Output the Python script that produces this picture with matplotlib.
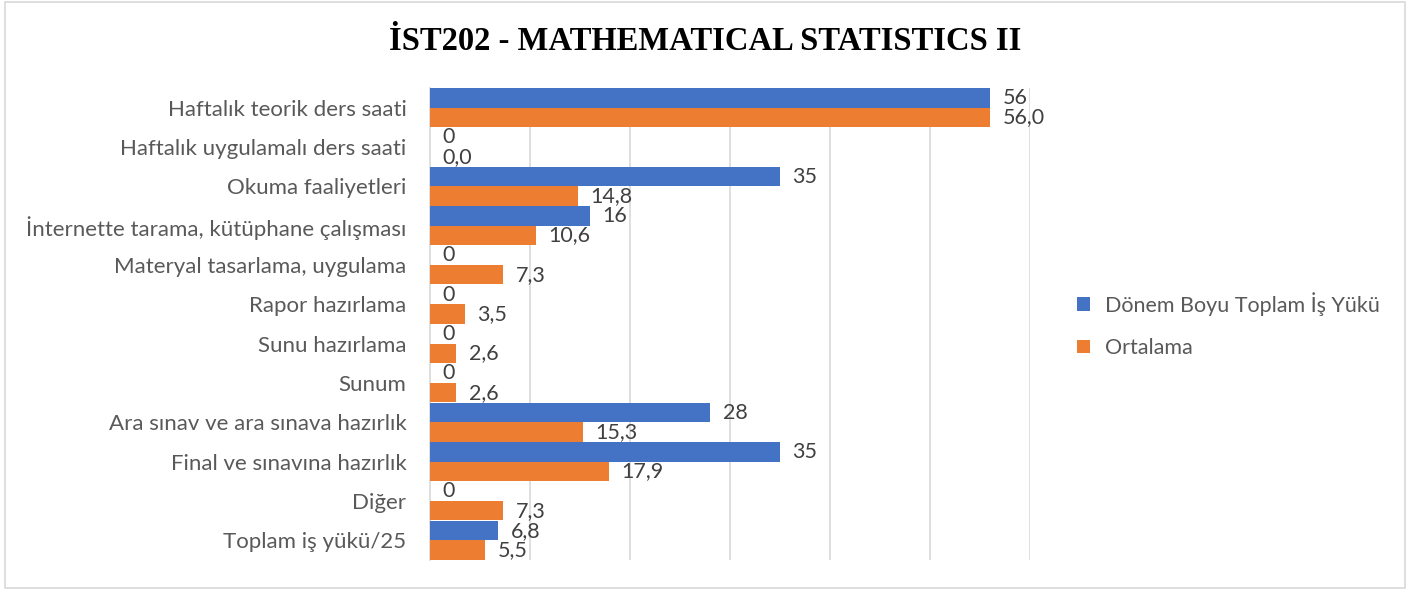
import matplotlib
matplotlib.use("Agg")
import matplotlib.pyplot as plt
from matplotlib.patches import Rectangle
import numpy as np

categories = [
    "Haftalık teorik ders saati",
    "Haftalık uygulamalı ders saati",
    "Okuma faaliyetleri",
    "İnternette tarama, kütüphane çalışması",
    "Materyal tasarlama, uygulama",
    "Rapor hazırlama",
    "Sunu hazırlama",
    "Sunum",
    "Ara sınav ve ara sınava hazırlık",
    "Final ve sınavına hazırlık",
    "Diğer",
    "Toplam iş yükü/25",
]
toplam = [56, 0, 35, 16, 0, 0, 0, 0, 28, 35, 0, 6.8]
ortalama = [56.0, 0.0, 14.8, 10.6, 7.3, 3.5, 2.6, 2.6, 15.3, 17.9, 7.3, 5.5]
series_names = ["Dönem Boyu Toplam İş Yükü", "Ortalama"]

BLUE = "#4472C4"
ORANGE = "#ED7D31"
TEXT = "#595959"
LABEL = "#404040"

plt.rcParams["font.family"] = ["Lato", "DejaVu Sans"]

fig = plt.figure(figsize=(14.1, 5.9), dpi=100)
fig.patches.append(Rectangle((5 / 1410, 2 / 590), 1400 / 1410, 586 / 590,
                             transform=fig.transFigure, fill=False,
                             edgecolor="#d9d9d9", linewidth=1.2))

ax = fig.add_axes([430 / 1410, 30 / 590, 600 / 1410, 472 / 590])
y = np.arange(len(categories))
h = 0.49
b1 = ax.barh(y - 0.245, toplam, height=h, color=BLUE, label=series_names[0], zorder=3)
b2 = ax.barh(y + 0.245, ortalama, height=h, color=ORANGE, label=series_names[1], zorder=3)


def fmt_general(v):
    return (f"{v:g}").replace(".", ",")


ax.bar_label(b1, labels=[fmt_general(v) for v in toplam], padding=9,
             fontsize=15.5, color=LABEL)
ax.bar_label(b2, labels=[f"{v:.1f}".replace(".", ",") for v in ortalama],
             padding=9, fontsize=15.5, color=LABEL)

ax.set_xlim(0, 60)
ax.set_ylim(len(categories) - 0.5, -0.5)
ax.set_xticks(np.arange(10, 61, 10))
ax.set_xticklabels([])
ax.tick_params(axis="x", length=0)
ax.xaxis.grid(True, color="#d9d9d9", linewidth=1.2, zorder=0)
ax.set_yticks(y)
ax.set_yticklabels(categories, fontsize=16, color=TEXT)
ax.tick_params(axis="y", length=0, pad=17)
for side in ["top", "right", "bottom"]:
    ax.spines[side].set_visible(False)
ax.spines["left"].set_color("#d9d9d9")
ax.spines["left"].set_linewidth(1.2)

fig.text(0.5, 1 - 41 / 590, "İST202 - MATHEMATICAL STATISTICS II",
         ha="center", va="center", fontsize=23.5, fontweight="bold",
         family="Liberation Serif", color="black")

fig.legend(handles=[b1, b2], loc="center left",
           bbox_to_anchor=(1058 / 1410, 1 - 325 / 590), frameon=False,
           fontsize=15.5, labelcolor=TEXT, handlelength=0.6, handleheight=0.6,
           handletextpad=0.7, labelspacing=1.05)

fig.savefig("out.png", dpi=100)
